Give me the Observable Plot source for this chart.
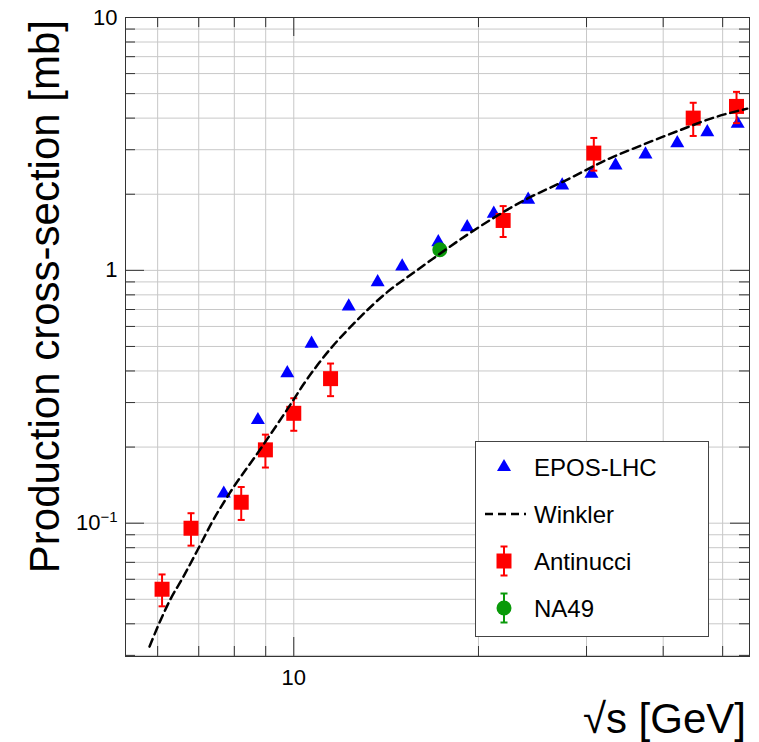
<!DOCTYPE html>
<html><head><meta charset="utf-8">
<script src="https://cdn.jsdelivr.net/npm/d3@7"></script>
<script src="https://cdn.jsdelivr.net/npm/@observablehq/plot@0.6"></script>
<style>
body{margin:0;background:#fff;}
#chart{width:759px;height:742px;}
svg{font-family:"Liberation Sans",Arial,Helvetica,sans-serif;}
</style></head><body><div id="chart"></div>
<script>
// EPOS-LHC (blue triangles)
const eposX = [7.69, 8.74, 9.76, 10.69, 12.29, 13.70, 15.02, 17.20, 19.17, 21.18, 24.10, 27.38, 30.56, 33.45, 37.43, 42.17, 47.20, 52.90];
const eposY = [0.131, 0.256, 0.392, 0.513, 0.720, 0.898, 1.036, 1.293, 1.482, 1.675, 1.903, 2.167, 2.410, 2.600, 2.874, 3.186, 3.520, 3.800];
// Winkler (dashed curve)
const winklerX = [5.82, 6.03, 6.30, 6.58, 7.03, 7.36, 7.86, 8.83, 9.88, 10.38, 11.48, 12.52, 14.20, 15.69, 17.30, 19.41, 24.02, 27.55, 32.82, 35.39, 42.17, 48.37, 54.83];
const winklerY = [0.0325, 0.0400, 0.0502, 0.0603, 0.0815, 0.1010, 0.1314, 0.197, 0.295, 0.355, 0.490, 0.615, 0.820, 0.980, 1.163, 1.41, 1.92, 2.25, 2.78, 3.00, 3.55, 4.02, 4.36];
// Antinucci (red squares with errors)
const antX = [6.10, 6.80, 8.21, 8.99, 10.0, 11.48, 21.94, 30.83, 44.77, 52.67];
const antY = [0.0548, 0.0955, 0.121, 0.195, 0.272, 0.373, 1.575, 2.909, 4.00, 4.45];
const antErr = [0.0079, 0.014, 0.018, 0.029, 0.040, 0.055, 0.22, 0.43, 0.60, 0.63];
// NA49 (green circle)
const na49X = [17.3];
const na49Y = [1.206];
const na49Err = [0.04];
// grid / ticks / labels
const xGrid = [6, 7, 8, 9, 10, 20, 30, 40, 50];
const xMajor = [10];
const xMinor = [6, 7, 8, 9, 20, 30, 40, 50];
const yGrid = [0.03,0.04,0.05,0.06,0.07,0.08,0.09,0.1,0.2,0.3,0.4,0.5,0.6,0.7,0.8,0.9,1,2,3,4,5,6,7,8,9,10];
const yMajor = [0.1, 1, 10];
const yMinor = yGrid.filter(v => !yMajor.includes(v));
const yLabelVals = [0.1, 1, 10];
const yLabelText = ["10⁻¹", "1", "10"];
const xLabelVals = [10];
const xLabelText = ["10"];
const legendNames = ["EPOS-LHC", "Winkler", "Antinucci", "NA49"];

const W = 759, H = 742, mT = 17, mB = 86, mL = 125, mR = 10;
const fh = H - mT - mB, fw = W - mL - mR;

const epos = eposX.map((x, i) => ({x, y: eposY[i]}));
const wink = winklerX.map((x, i) => ({x, y: winklerY[i]}));
const ant = antX.map((x, i) => ({x, y: antY[i], e: antErr[i]}));
const na49 = na49X.map((x, i) => ({x, y: na49Y[i], e: na49Err[i]}));

const cap = {draw(ctx) { ctx.moveTo(-3.5, 0); ctx.lineTo(3.5, 0); }};
const BLUE = "#0000ff", RED = "#ff0000", GREEN = "#0a9a0a", FR = "#333";
const triR = 5.2, sqR = 8.46, ciR = 7.5;

const plot = Plot.plot({
  width: W, height: H,
  marginTop: mT, marginBottom: mB, marginLeft: mL, marginRight: mR,
  x: {type: "log", domain: [5.318, 55.3], axis: null},
  y: {type: "log", domain: [0.0297, 10], axis: null},
  style: {fontFamily: "'Liberation Sans', Arial, Helvetica, sans-serif", background: "white", color: "black"},
  marks: [
    Plot.gridX(xGrid, {stroke: "#c8c8c8", strokeOpacity: 1}),
    Plot.gridY(yGrid, {stroke: "#c8c8c8", strokeOpacity: 1}),
    // ticks inside frame
    Plot.tickX(xMinor, {x: d => d, insetTop: fh - 10, stroke: FR}),
    Plot.tickX(xMajor, {x: d => d, insetTop: fh - 19, stroke: FR}),
    Plot.tickX(xMinor, {x: d => d, insetBottom: fh - 10, stroke: FR}),
    Plot.tickX(xMajor, {x: d => d, insetBottom: fh - 19, stroke: FR}),
    Plot.tickY(yMinor, {y: d => d, insetRight: fw - 10, stroke: FR}),
    Plot.tickY(yMajor, {y: d => d, insetRight: fw - 19, stroke: FR}),
    Plot.tickY(yMinor, {y: d => d, insetLeft: fw - 10, stroke: FR}),
    Plot.tickY(yMajor, {y: d => d, insetLeft: fw - 19, stroke: FR}),
    Plot.frame({stroke: FR, strokeWidth: 1}),
    // tick labels
    Plot.text(yLabelVals, {y: d => d, text: (d, i) => yLabelText[i], frameAnchor: "left", textAnchor: "end", dx: -8, fontSize: 22, fill: "black"}),
    Plot.text(xLabelVals, {x: d => d, text: (d, i) => xLabelText[i], frameAnchor: "bottom", lineAnchor: "top", dy: 13, fontSize: 22, fill: "black"}),
    // data
    Plot.dot(epos, {x: "x", y: "y", symbol: "triangle", r: triR, fill: BLUE, stroke: "none"}),
    Plot.ruleX(ant, {x: "x", y1: d => d.y - d.e, y2: d => d.y + d.e, stroke: RED, strokeWidth: 2}),
    Plot.dot(ant, {x: "x", y: d => d.y + d.e, symbol: cap, stroke: RED, strokeWidth: 2, fill: "none"}),
    Plot.dot(ant, {x: "x", y: d => d.y - d.e, symbol: cap, stroke: RED, strokeWidth: 2, fill: "none"}),
    Plot.dot(ant, {x: "x", y: "y", symbol: "square", r: sqR, fill: RED, stroke: "none"}),
    Plot.ruleX(na49, {x: "x", y1: d => d.y - d.e, y2: d => d.y + d.e, stroke: GREEN, strokeWidth: 2}),
    Plot.dot(na49, {x: "x", y: "y", symbol: "circle", r: ciR, fill: GREEN, stroke: "none"}),
    Plot.line(wink, {x: "x", y: "y", curve: "monotone-x", stroke: "black", strokeWidth: 2.5, strokeDasharray: "8,5"})
  ]
});

document.getElementById("chart").appendChild(plot);
const svg = d3.select(plot);

// superscript on 10^-1
svg.selectAll("text").each(function() {
  const t = d3.select(this);
  if (t.text() === "10⁻¹") {
    t.text("");
    t.append("tspan").text("10");
    t.append("tspan").attr("font-size", 15).attr("dy", "-0.55em").text("−1");
  }
});

// axis titles
svg.append("text")
  .attr("transform", "translate(59,20) rotate(-90)")
  .attr("text-anchor", "end")
  .attr("font-size", 42)
  .attr("fill", "black")
  .text("Production cross-section [mb]");
svg.append("text")
  .attr("x", 746).attr("y", 733)
  .attr("text-anchor", "end")
  .attr("font-size", 42)
  .attr("fill", "black")
  .text("√s [GeV]");

// legend
const lg = svg.append("g");
lg.append("rect").attr("x", 475.5).attr("y", 441.5).attr("width", 233).attr("height", 195)
  .attr("fill", "white").attr("stroke", "#444").attr("stroke-width", 1);
const sx = 504, ty = [467, 514, 561, 608];
lg.append("path").attr("transform", `translate(${sx},${ty[0]})`)
  .attr("d", d3.symbol(d3.symbolTriangle, Math.PI * triR * triR)()).attr("fill", BLUE);
lg.append("line").attr("x1", 485).attr("x2", 526).attr("y1", ty[1]).attr("y2", ty[1])
  .attr("stroke", "black").attr("stroke-width", 2.5).attr("stroke-dasharray", "8,5");
function errSym(y, color) {
  lg.append("line").attr("x1", sx).attr("x2", sx).attr("y1", y - 14.5).attr("y2", y + 14.5).attr("stroke", color).attr("stroke-width", 2);
  lg.append("line").attr("x1", sx - 3.5).attr("x2", sx + 3.5).attr("y1", y - 14.5).attr("y2", y - 14.5).attr("stroke", color).attr("stroke-width", 2);
  lg.append("line").attr("x1", sx - 3.5).attr("x2", sx + 3.5).attr("y1", y + 14.5).attr("y2", y + 14.5).attr("stroke", color).attr("stroke-width", 2);
}
errSym(ty[2], RED);
lg.append("path").attr("transform", `translate(${sx},${ty[2]})`)
  .attr("d", d3.symbol(d3.symbolSquare, Math.PI * sqR * sqR)()).attr("fill", RED);
errSym(ty[3], GREEN);
lg.append("circle").attr("cx", sx).attr("cy", ty[3]).attr("r", ciR).attr("fill", GREEN);
legendNames.forEach((n, i) => {
  lg.append("text").attr("x", 534).attr("y", ty[i]).attr("dy", "0.36em")
    .attr("text-anchor", "start")
    .attr("font-size", 24).attr("fill", "black").text(n);
});
</script>
</body></html>
